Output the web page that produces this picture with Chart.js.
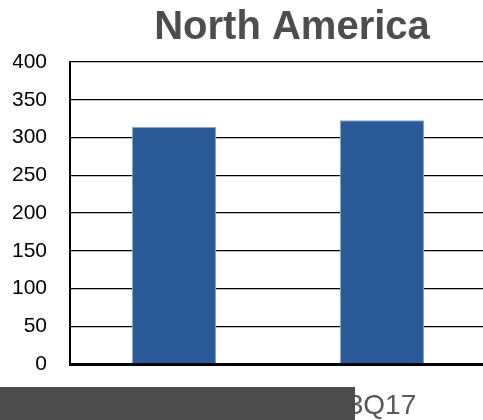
<!DOCTYPE html>
<html>
<head>
<meta charset="utf-8">
<script src="https://cdn.jsdelivr.net/npm/chart.js@4"></script>
<style>
html,body{margin:0;padding:0;overflow:hidden;background:#fff;}
#wrap{position:relative;width:488px;height:420px;}
</style>
</head>
<body>
<div id="wrap"><canvas id="c"></canvas></div>
<script>
const title = "North America";
const categories = ["3Q16", "3Q17"];
const values = [314, 323];
const yTicks = [0, 50, 100, 150, 200, 250, 300, 350, 400];

const overlay = {
  id: 'overlay',
  afterDraw(chart) {
    const ctx = chart.ctx;
    ctx.save();
    ctx.fillStyle = '#4d4d4d';
    ctx.font = 'bold 40px "Liberation Sans", Arial, sans-serif';
    ctx.textAlign = 'center';
    ctx.textBaseline = 'alphabetic';
    ctx.fillText(title, 292, 39);
    ctx.fillStyle = '#4d4d4d';
    ctx.fillRect(0, 387, 355, 33);
    ctx.restore();
  }
};

new Chart(document.getElementById('c'), {
  type: 'bar',
  data: {
    labels: categories,
    datasets: [{
      data: values,
      backgroundColor: '#2A5A97',
      borderColor: '#8aa6cc',
      borderWidth: 1,
      barPercentage: 0.404,
      categoryPercentage: 1.0
    }]
  },
  options: {
    responsive: true,
    maintainAspectRatio: false,
    animation: false,
    layout: { padding: { top: 62, left: 13, right: 2, bottom: 0 } },
    plugins: { legend: { display: false }, title: { display: false }, tooltip: { enabled: false } },
    scales: {
      x: {
        afterFit(scale) { scale.height = 56; },
        grid: { display: false, drawTicks: false },
        border: { display: true, color: '#000', width: 3 },
        ticks: { color: '#595959', padding: 25, font: { family: '"Liberation Sans", Arial, sans-serif', size: 28 } }
      },
      y: {
        min: 0, max: 400,
        afterFit(scale) { scale.width = 57; },
        afterBuildTicks(scale) { scale.ticks = yTicks.map(v => ({ value: v })); },
        grid: { color: '#000', lineWidth: 1.3, drawTicks: false },
        border: { display: true, color: '#000', width: 2 },
        ticks: { color: '#000', padding: 23, font: { family: '"Liberation Sans", Arial, sans-serif', size: 21 } }
      }
    }
  },
  plugins: [overlay]
});
</script>
</body>
</html>
